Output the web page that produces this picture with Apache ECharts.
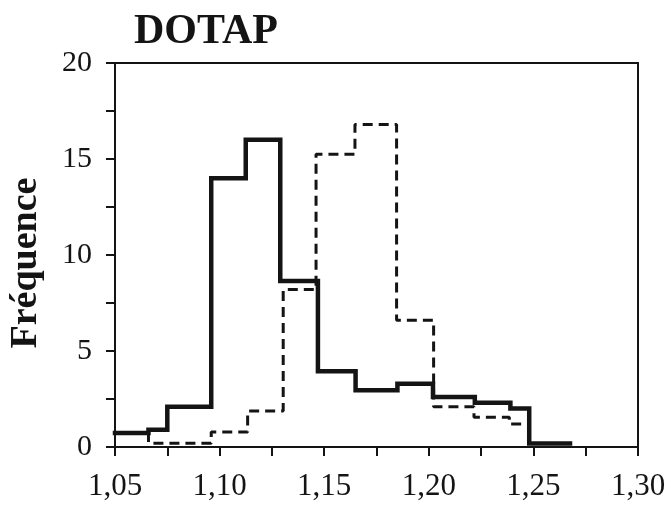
<!DOCTYPE html>
<html>
<head>
<meta charset="utf-8">
<script src="https://cdn.jsdelivr.net/npm/echarts@6/dist/echarts.min.js"></script>
<style>
  html, body { margin: 0; padding: 0; background: #ffffff; }
  #chart { width: 671px; height: 511px; }
</style>
</head>
<body>
<div id="chart"></div>
<script>
// Histogram bin edges and frequencies (solid curve)
const solidEdges = [1.05, 1.066, 1.075, 1.096, 1.1125, 1.129, 1.147, 1.165, 1.185, 1.202, 1.222, 1.239, 1.248, 1.2675];
const solidFreq  = [0.73, 0.9, 2.1, 14.0, 16.0, 8.65, 3.95, 2.95, 3.3, 2.6, 2.3, 2.0, 0.18];

// Histogram bin edges and frequencies (dashed curve)
const dashedEdges = [1.05, 1.066, 1.096, 1.1134, 1.1304, 1.1461, 1.1647, 1.1846, 1.2023, 1.2216, 1.2385, 1.2452];
const dashedFreq  = [0.7, 0.2, 0.78, 1.88, 8.2, 15.25, 16.8, 6.6, 2.1, 1.55, 1.2];

// Axis ticks
const xTicks = [1.05, 1.10, 1.15, 1.20, 1.25, 1.30];
const yTicks = [0, 5, 10, 15, 20];

const titleText = 'DOTAP';
const yName = 'Fréquence';

// Turn edges + heights into step-line points (each value holds until the next edge)
function stepPoints(edges, freq) {
  const pts = freq.map((v, i) => [edges[i], v]);
  pts.push([edges[edges.length - 1], freq[freq.length - 1]]);
  return pts;
}

const ink = '#141414';
const serif = '"Liberation Serif", "Times New Roman", serif';

const chart = echarts.init(document.getElementById('chart'), null, { renderer: 'canvas' });
chart.setOption({
  animation: false,
  backgroundColor: '#ffffff',
  title: {
    text: titleText,
    left: 129,
    top: 6,
    textStyle: { fontFamily: serif, fontWeight: 'bold', fontSize: 42, color: ink }
  },
  grid: {
    left: 115, top: 63, width: 523, height: 384,
    outerBoundsMode: 'none',
    containLabel: false,
    show: true, borderColor: ink, borderWidth: 2, backgroundColor: 'transparent'
  },
  xAxis: {
    type: 'value',
    min: xTicks[0], max: xTicks[xTicks.length - 1], interval: 0.05,
    axisLine: { show: true, onZero: false, lineStyle: { color: ink, width: 2 } },
    axisTick: { show: true, inside: false, length: 9, lineStyle: { color: ink, width: 2 } },
    minorTick: { show: true, splitNumber: 2, length: 9, lineStyle: { color: ink, width: 2 } },
    splitLine: { show: false },
    axisLabel: {
      margin: 24, color: ink, fontFamily: serif, fontSize: 31,
      formatter: v => v.toFixed(2).replace('.', ',')
    }
  },
  yAxis: {
    type: 'value',
    min: yTicks[0], max: yTicks[yTicks.length - 1], interval: 5,
    name: yName,
    nameLocation: 'middle',
    nameRotate: 90,
    nameGap: 70,
    nameTextStyle: {
      fontFamily: serif, fontWeight: 'bold', fontSize: 38, color: ink,
      padding: [0, 16, 0, 0]
    },
    axisLine: { show: true, lineStyle: { color: ink, width: 2 } },
    axisTick: { show: true, inside: false, length: 9, lineStyle: { color: ink, width: 2 } },
    minorTick: { show: true, splitNumber: 2, length: 9, lineStyle: { color: ink, width: 2 } },
    splitLine: { show: false },
    axisLabel: { margin: 23, color: ink, fontFamily: serif, fontSize: 30 }
  },
  series: [
    {
      name: 'dashed',
      type: 'line',
      step: 'end',
      symbol: 'none',
      data: stepPoints(dashedEdges, dashedFreq),
      lineStyle: { color: ink, width: 3, type: [10, 6] },
      z: 2
    },
    {
      name: 'solid',
      type: 'line',
      step: 'end',
      symbol: 'none',
      data: stepPoints(solidEdges, solidFreq),
      lineStyle: { color: ink, width: 4.5, cap: 'square', join: 'miter' },
      z: 3
    }
  ]
});
</script>
</body>
</html>
